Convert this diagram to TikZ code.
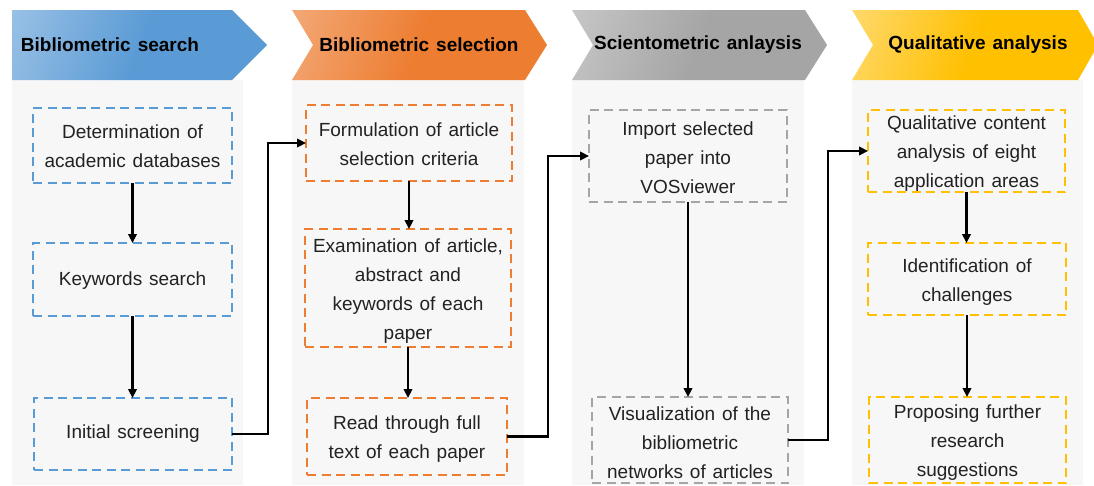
\documentclass[tikz,border=0pt]{standalone}
\usepackage{fontspec}
\setmainfont{Liberation Sans}
\usetikzlibrary{arrows.meta}
\definecolor{blueB}{HTML}{5B9BD5}
\definecolor{blueL}{HTML}{A4C7E8}
\definecolor{oraB}{HTML}{ED7D31}
\definecolor{oraL}{HTML}{F4B083}
\definecolor{grayB}{HTML}{A5A5A5}
\definecolor{grayL}{HTML}{CCCCCC}
\definecolor{yelB}{HTML}{FFC000}
\definecolor{yelL}{HTML}{FFDD80}
\definecolor{panel}{HTML}{F7F7F7}
\definecolor{ink}{HTML}{222222}
% header fills: light corner on the left, solid colour for the rest
\pgfdeclarehorizontalshading{blueshade}{100bp}{color(0bp)=(blueL); color(12bp)=(blueL); color(50bp)=(blueB); color(100bp)=(blueB)}
\pgfdeclarehorizontalshading{orashade}{100bp}{color(0bp)=(oraL); color(12bp)=(oraL); color(50bp)=(oraB); color(100bp)=(oraB)}
\pgfdeclarehorizontalshading{grayshade}{100bp}{color(0bp)=(grayL); color(12bp)=(grayL); color(50bp)=(grayB); color(100bp)=(grayB)}
\pgfdeclarehorizontalshading{yelshade}{100bp}{color(0bp)=(yelL); color(12bp)=(yelL); color(50bp)=(yelB); color(100bp)=(yelB)}
\newcommand\boxfont{\fontsize{19}{29}\selectfont\spaceskip=6.8pt plus 1pt\relax}
\newcommand\headfont{\bfseries\fontsize{19}{22}\selectfont\spaceskip=7pt plus 1pt\relax}
\begin{document}
\begin{tikzpicture}[x=1pt,y=-1pt,
  dbox/.style={draw=#1, line width=2.4pt, dash pattern=on 9pt off 5.5pt,
    inner sep=0pt, outer sep=0pt},
  txt/.style={align=center, text=ink, inner sep=0pt, font=\boxfont},
  hdr/.style={text=black, inner sep=0pt, font=\headfont},
  hshade/.style={shading=#1, shading angle=-20},
  conn/.style={draw=black, line width=2.3pt,
    -{Triangle[length=9pt,width=8.5pt]}}]
\useasboundingbox (0,0) rectangle (1094,485);

% column panels
\fill[panel] (12,80) rectangle (243,485);
\fill[panel] (292,80) rectangle (524,485);
\fill[panel] (572,80) rectangle (804,485);
\fill[panel] (852,80) rectangle (1083,485);

% chevron headers
\shade[hshade=blueshade] (12,10) -- (232,10) -- (267,45) -- (232,80) -- (12,80) -- cycle;
\shade[hshade=orashade] (292,10) -- (525,10) -- (547,45) -- (525,80) -- (292,80) -- (313,45) -- cycle;
\shade[hshade=grayshade] (572,10) -- (805,10) -- (827,45) -- (805,80) -- (572,80) -- (593,45) -- cycle;
\shade[hshade=yelshade] (852,10) -- (1078,10) -- (1098,45) -- (1078,80) -- (852,80) -- (873,45) -- cycle;

\node[hdr] (h1) at (110,45) {Bibliometric search};
\node[hdr] (h2) at (419,45) {Bibliometric selection};
\node[hdr] (h3) at (698,45) {Scientometric anlaysis};
\node[hdr] (h4) at (978,45) {Qualitative analysis};

% dashed step boxes
\node[dbox=blueB, minimum width=199pt, minimum height=75pt] (c1b1) at (132.5,145.5) {};
\node[dbox=blueB, minimum width=199pt, minimum height=73pt] (c1b2) at (132.5,279.5) {};
\node[dbox=blueB, minimum width=198pt, minimum height=72pt] (c1b3) at (133,434) {};

\node[dbox=oraB, minimum width=206pt, minimum height=76pt] (c2b1) at (409,143) {};
\node[dbox=oraB, minimum width=206pt, minimum height=118pt] (c2b2) at (408,288) {};
\node[dbox=oraB, minimum width=200pt, minimum height=77pt] (c2b3) at (407,436.5) {};

\node[dbox=grayB, minimum width=198pt, minimum height=92pt] (c3b1) at (688,156) {};
\node[dbox=grayB, minimum width=196pt, minimum height=86pt] (c3b2) at (690,440) {};

\node[dbox=yelB, minimum width=197pt, minimum height=82pt] (c4b1) at (966.5,151) {};
\node[dbox=yelB, minimum width=198pt, minimum height=72pt] (c4b2) at (967,279) {};
\node[dbox=yelB, minimum width=197pt, minimum height=86pt] (c4b3) at (967.5,440) {};

% box texts
\node[txt] (t11) at (132.5,146) {Determination of\\academic databases};
\node[txt] (t12) at (132.5,281) {Keywords search};
\node[txt] (t13) at (133,434) {Initial screening};
\node[txt] (t21) at (409,144) {Formulation of article\\selection criteria};
\node[txt] (t22) at (408,291) {Examination of article,\\abstract and\\keywords of each\\paper};
\node[txt] (t23) at (407,439) {Read through full\\text of each paper};
\node[txt] (t31) at (688,158) {Import selected\\paper into\\VOSviewer};
\node[txt] (t32) at (690,443) {Visualization of the\\bibliometric\\networks of articles};
\node[txt] (t41) at (966.5,154) {Qualitative content\\analysis of eight\\application areas};
\node[txt] (t42) at (967,282) {Identification of\\challenges};
\node[txt] (t43) at (967.5,443) {Proposing further\\research\\suggestions};

% connectors within columns
\draw[conn] (c1b1.south) -- (c1b1.south |- c1b2.north);
\draw[conn] (c1b2.south) -- (c1b2.south |- c1b3.north);
\draw[conn] (c2b1.south) -- (c2b1.south |- c2b2.north);
\draw[conn] (c2b2.south) -- (c2b2.south |- c2b3.north);
\draw[conn] (c3b1.south) -- (c3b1.south |- c3b2.north);
\draw[conn] (c4b1.south) -- (c4b1.south |- c4b2.north);
\draw[conn] (c4b2.south) -- (c4b2.south |- c4b3.north);

% connectors between columns
\draw[conn] (c1b3.east) -- ++(36,0) |- (c2b1.west);
\draw[conn] (c2b3.east) -- ++(41,0) |- (c3b1.west);
\draw[conn] (c3b2.east) -- ++(40,0) |- (c4b1.west);
\end{tikzpicture}
\end{document}
